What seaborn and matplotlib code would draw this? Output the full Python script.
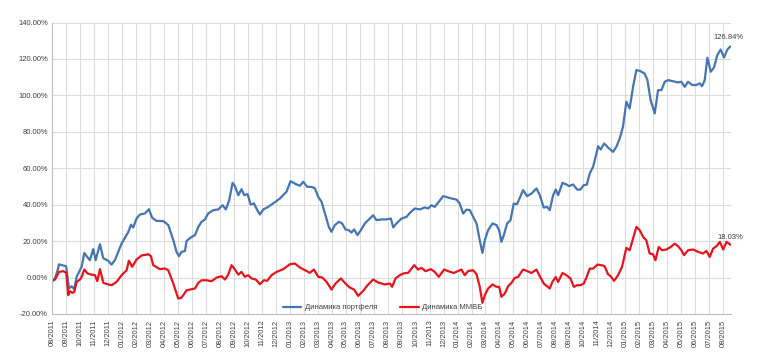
import pandas as pd
import matplotlib
matplotlib.use("Agg")
import matplotlib.pyplot as plt
import seaborn as sns

# ================================
# 1. Data
# ================================
month_labels = ["08/2011", "09/2011", "10/2011", "11/2011", "12/2011",
                "01/2012", "02/2012", "03/2012", "04/2012", "05/2012", "06/2012",
                "07/2012", "08/2012", "09/2012", "10/2012", "11/2012", "12/2012",
                "01/2013", "02/2013", "03/2013", "04/2013", "05/2013", "06/2013",
                "07/2013", "08/2013", "09/2013", "10/2013", "11/2013", "12/2013",
                "01/2014", "02/2014", "03/2014", "04/2014", "05/2014", "06/2014",
                "07/2014", "08/2014", "09/2014", "10/2014", "11/2014", "12/2014",
                "01/2015", "02/2015", "03/2015", "04/2015", "05/2015", "06/2015",
                "07/2015", "08/2015"]

# time in months since 08/2011, value in %
port_t = [0, 0.19, 0.38, 0.48, 0.67, 0.91, 1.0, 1.19, 1.38, 1.57, 1.74, 1.98,
          2.10, 2.29, 2.46, 2.69, 2.93, 3.10, 3.41, 3.65, 4.0, 4.24, 4.48, 4.96,
          5.44, 5.63, 5.79, 6.03, 6.27, 6.63, 6.91, 7.15, 7.46, 7.94, 8.30, 8.66,
          8.89, 9.06, 9.25, 9.49, 9.61, 9.97, 10.21, 10.45, 10.68, 10.92, 11.16,
          11.52, 11.88, 12.18, 12.42, 12.66, 12.90, 13.07, 13.31, 13.54, 13.74,
          13.98, 14.19, 14.43, 14.67, 14.86, 15.10, 15.38, 15.81, 16.29, 16.76,
          17.05, 17.43, 17.72, 17.96, 18.24, 18.55, 18.79, 19.03, 19.27, 19.51,
          19.79, 19.98, 20.22, 20.51, 20.74, 20.98, 21.22, 21.41, 21.60, 21.84,
          22.08, 22.37, 22.73, 22.96, 23.20, 23.56, 23.92, 24.23, 24.40, 24.63,
          24.99, 25.35, 25.59, 25.94, 26.30, 26.66, 26.90, 27.13, 27.37, 27.66,
          27.97, 28.28, 28.57, 28.93, 29.16, 29.40, 29.64, 29.88, 30.12, 30.36,
          30.59, 30.78, 30.95, 31.19, 31.50, 31.78, 31.98, 32.14, 32.31, 32.55,
          32.79, 33.02, 33.26, 33.69, 33.98, 34.29, 34.65, 34.89, 35.17, 35.41,
          35.60, 35.84, 36.03, 36.20, 36.51, 36.79, 36.98, 37.27, 37.56, 37.79,
          38.03, 38.25, 38.46, 38.70, 38.94, 39.06, 39.25, 39.49, 39.77, 40.13,
          40.37, 40.61, 40.84, 41.08, 41.32, 41.56, 41.80, 42.04, 42.39, 42.59,
          42.82, 43.11, 43.35, 43.59, 43.83, 44.07, 44.42, 44.78, 45.02, 45.26,
          45.50, 45.79, 46.09, 46.33, 46.50, 46.69, 46.88, 47.12, 47.36, 47.59,
          47.83, 48.07, 48.31, 48.52]
port_v = [-1.5, -0.5, 4, 7.3, 6.8, 6.4, 5.9, -6, -4.8, -6.4, 0.4, 4,
          5.9, 13.5, 11.7, 9.5, 15.6, 9.5, 18.3, 10.6, 9.2, 7.1, 9.5, 18.7,
          25, 29, 27.5, 32.4, 34.6, 35.2, 37.5, 32.8, 31.1, 31, 28.8, 20.5,
          14.1, 11.7, 14.1, 14.5, 20.1, 22.3, 23.3, 27.8, 30.6, 31.9, 35.2,
          37, 37.4, 39.7, 37.4, 42.5, 52, 50.2, 45.2, 48.5, 45.2,
          45.8, 40.1, 40.7, 37, 34.6, 37.4, 38.5, 40.7, 43.4, 47.1,
          52.9, 51.3, 50.4, 52.6, 49.8, 49.8, 49, 44.3, 41.6, 35.2,
          27.8, 25.1, 28.8, 30.6, 29.7, 26.4, 26, 24.7, 26.4, 23.3,
          26, 29.7, 32.4, 34.2, 31.5, 31.9, 31.9, 32.4, 27.5, 29.7,
          32.4, 33.3, 35.5, 37.9, 37.4, 38.5, 37.9, 39.7, 38.8, 41.6,
          44.7, 44, 43.4, 42.8, 40.6, 35.1, 37.3, 37, 33.3, 29.7,
          20.5, 13.5, 20.5, 26, 29.7, 28.8, 26, 19.6, 23.2, 29.7,
          31.5, 40.6, 40.3, 48, 44.7, 46.1, 48.9, 45.2, 38.4, 38.8,
          37, 45.2, 48.3, 45.2, 52, 51.1, 50.2, 51.1, 48.3, 48.3,
          50.7, 51, 57.1, 60.8, 68.1, 72.1, 70.3, 73.6, 71.4, 69,
          71.8, 76.4, 82.8, 96.5, 92.8, 104.7, 113.9, 113.5, 112, 108.4,
          97.4, 90.1, 102.9, 102.9, 107.5, 108.4, 107.8, 107.1, 107.5, 104.7,
          107.5, 105.7, 105.7, 106.6, 105.1, 108.4, 120.7, 113, 115.4, 122.1,
          125.2, 120.8, 125.2, 126.84]

mmvb_t = [0, 0.19, 0.48, 0.79, 1.0, 1.14, 1.26, 1.43, 1.57, 1.74, 1.98, 2.10,
          2.29, 2.53, 2.81, 3.05, 3.22, 3.41, 3.65, 4.0, 4.24, 4.60, 4.96, 5.32,
          5.48, 5.72, 6.03, 6.39, 6.87, 7.06, 7.22, 7.70, 8.06, 8.30, 8.66, 9.01,
          9.22, 9.37, 9.61, 9.97, 10.21, 10.45, 10.68, 11.04, 11.40, 11.76, 12.12,
          12.36, 12.59, 12.83, 13.07, 13.31, 13.54, 13.78, 14.02, 14.26, 14.57,
          14.86, 15.14, 15.38, 15.69, 16.05, 16.53, 17.00, 17.36, 17.72, 18.08,
          18.43, 18.72, 19.03, 19.32, 19.63, 19.98, 20.27, 20.65, 20.98, 21.29,
          21.60, 21.89, 22.25, 22.56, 22.96, 23.32, 23.80, 24.16, 24.32, 24.56,
          24.87, 25.11, 25.47, 25.90, 26.18, 26.42, 26.71, 27.09, 27.37, 27.66,
          28.04, 28.33, 28.73, 29.04, 29.28, 29.52, 29.76, 30.12, 30.36, 30.59,
          30.78, 30.95, 31.19, 31.50, 31.78, 31.98, 32.14, 32.38, 32.62, 32.86,
          33.10, 33.33, 33.69, 33.98, 34.29, 34.65, 34.89, 35.17, 35.60, 35.79,
          36.03, 36.20, 36.51, 36.79, 37.08, 37.32, 37.56, 37.79, 38.03, 38.20,
          38.46, 38.70, 39.01, 39.30, 39.53, 39.77, 39.96, 40.20, 40.49, 40.77,
          41.08, 41.32, 41.56, 41.80, 42.04, 42.28, 42.51, 42.75, 42.99, 43.16,
          43.40, 43.64, 43.95, 44.26, 44.54, 44.78, 45.02, 45.21, 45.50, 45.86,
          46.21, 46.57, 46.81, 47.05, 47.29, 47.53, 47.77, 48.01, 48.25, 48.52]
mmvb_v = [-2, -1.1, 3.1, 3.5, 2.6, -9.7, -7.5, -8.4, -7.9, -2.4, -1.1, 0.4,
          4.4, 2.2, 1.6, 1.3, -2, 4.6, -2.9, -3.8, -4.2, -2.4, 1.3, 4,
          9.2, 5.9, 9.9, 12.1, 12.8, 11.7, 6.8, 4.6, 5, 4, -3.3, -11.5,
          -11.2, -9.7, -7, -6.4, -6, -2.9, -1.5, -1.5, -2, 0, 0.7,
          -1.1, 1.6, 6.8, 4.4, 1.6, 3.1, 0.4, 1.3, -0.5, -1.1,
          -3.7, -1.5, -1.8, 1.3, 3.1, 4.6, 7.3, 7.7, 5.5, 4,
          2.6, 4.4, 0.4, 0, -2.4, -6.6, -3.3, -0.5, -3.3, -5.5,
          -6.6, -10.1, -7.3, -4.2, -1.1, -2.7, -3.8, -3.3, -5.1, -0.5,
          1.3, 2.2, 2.6, 6.8, 4.4, 5.3, 3.5, 4.6, 3.1, 0.4,
          4.4, 3.5, 2.5, 3.6, 4.4, 1.3, 3.6, 4, 1.8, -5.1,
          -13.9, -9.7, -6, -3.8, -5.1, -5.1, -10.6, -8.8, -4.8, -2.9,
          -0.2, 0.3, 4.4, 3.6, 2.5, 4.4, 0.7, -3.3, -6, -2.4,
          0.3, -2.4, 2.5, 1.3, -0.5, -5.1, -4.2, -4.2, -3.3, -0.5,
          4.9, 4.9, 7.1, 6.8, 6.2, 1.8, 0.7, -1.8, 1.3, 5.8,
          16.3, 15, 21.4, 27.8, 26, 22.3, 20.5, 13.2, 12.8, 9.5,
          16.8, 15, 15.4, 16.8, 18.6, 17.2, 15, 12.3, 15, 15.4,
          14.1, 13.2, 14.6, 11.3, 15.9, 17.2, 19.6, 15.4, 19.6, 18.03]

series_names = ["Динамика портфеля", "Динамика ММВБ"]
series_colors = ["#4475B4", "#E8141B"]
end_labels = ["126.84%", "18.03%"]
y_ticks = [-20, 0, 20, 40, 60, 80, 100, 120, 140]

df = pd.concat([
    pd.DataFrame({"t": port_t, "value": port_v, "series": series_names[0]}),
    pd.DataFrame({"t": mmvb_t, "value": mmvb_v, "series": series_names[1]}),
])

# ================================
# 2. Plot
# ================================
sns.set_theme(style="white")
plt.rcParams["font.family"] = ["Liberation Sans", "DejaVu Sans"]

fig = plt.figure(figsize=(7.58, 3.58), dpi=100)
ax = fig.add_axes([0.069, 0.123, 0.895, 0.814])

sns.lineplot(data=df, x="t", y="value", hue="series",
             palette=dict(zip(series_names, series_colors)),
             linewidth=1.6, sort=True, estimator=None, ax=ax,
             solid_joinstyle="round", solid_capstyle="round")

ax.set_xlim(0, 48.55)
ax.set_ylim(-20, 140)
ax.set_xticks(range(len(month_labels)))
ax.set_xticklabels(month_labels, rotation=90, fontsize=5.4, color="#404040")
ax.set_yticks(y_ticks)
ax.set_yticklabels([f"{v:.2f}%" for v in y_ticks], fontsize=5.5, color="#404040")
ax.tick_params(axis="y", length=0, pad=3)
ax.tick_params(axis="x", length=2, width=0.6, color="#BFBFBF", pad=2)
ax.set_xlabel("")
ax.set_ylabel("")

ax.grid(True, color="#DCDCDC", linewidth=0.8)
ax.set_axisbelow(True)
for side in ["top", "right"]:
    ax.spines[side].set_visible(False)
for side in ["left", "bottom"]:
    ax.spines[side].set_color("#BFBFBF")
    ax.spines[side].set_linewidth(0.8)

# end-point labels
ax.annotate(end_labels[0], (port_t[-1], port_v[-1]), xytext=(-1, 4),
            textcoords="offset points", ha="center", va="bottom",
            fontsize=5.5, color="#404040")
ax.annotate(end_labels[1], (mmvb_t[-1], mmvb_v[-1]), xytext=(0, 3),
            textcoords="offset points", ha="center", va="bottom",
            fontsize=5.5, color="#404040")

ax.legend(loc="lower center", bbox_to_anchor=(0.487, -0.015), ncol=2,
          frameon=False, fontsize=5.5, handlelength=2.4, handletextpad=0.5,
          columnspacing=3.0, labelcolor="#404040")

fig.savefig("out.png", dpi=100)
